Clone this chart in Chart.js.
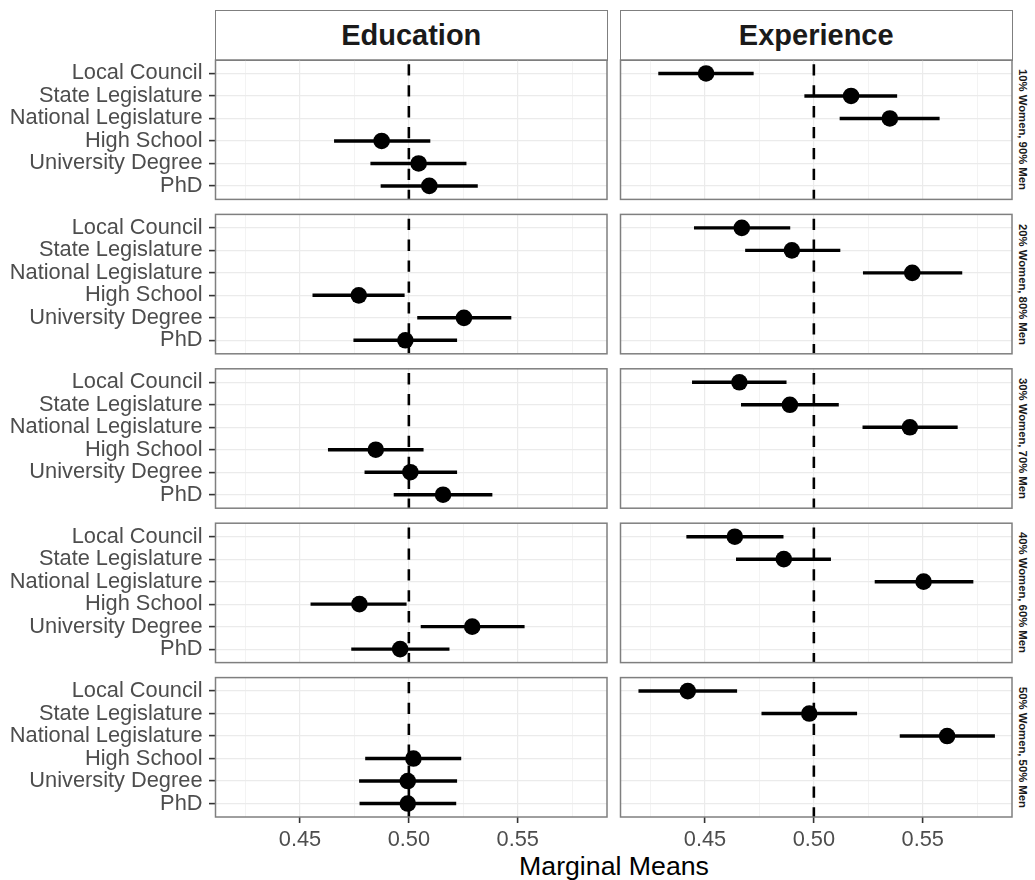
<!DOCTYPE html>
<html>
<head>
<meta charset="utf-8">
<script src="https://cdn.jsdelivr.net/npm/chart.js@4.4.1/dist/chart.umd.min.js"></script>
<style>
  body { margin: 0; width: 1035px; height: 880px; overflow: hidden; position: relative; background: #fff;
         font-family: 'Liberation Sans', Arial, Helvetica, sans-serif; }
  .panel { position: absolute; }
  .strip { position: absolute; box-sizing: border-box; border: 1.5px solid #7f7f7f; background: #fff;
           display: flex; align-items: center; justify-content: center;
           font-weight: bold; font-size: 29px; color: #1a1a1a; }
  .rstrip { position: absolute; display: flex; align-items: center; justify-content: center;
            writing-mode: vertical-rl; font-weight: bold; font-size: 11.3px; color: #1a1a1a; white-space: nowrap; }
  .xtitle { position: absolute; left: 214px; width: 800px; top: 853px; text-align: center;
            font-size: 26.7px; line-height: 1; color: #000; }
</style>
</head>
<body>
<div class="xtitle">Marginal Means</div>
<script>
// y categories, top to bottom
const levels = ['Local Council', 'State Legislature', 'National Legislature', 'High School', 'University Degree', 'PhD'];
const facets = ['Education', 'Experience'];
const groups = ['10% Women, 90% Men', '20% Women, 80% Men', '30% Women, 70% Men', '40% Women, 60% Men', '50% Women, 50% Men'];

const eduLevels = ['High School', 'University Degree', 'PhD'];
const expLevels = ['Local Council', 'State Legislature', 'National Legislature'];

// one row per group
const eduMean  = [[0.4875, 0.5045, 0.5094], [0.4770, 0.5253, 0.4984], [0.4848, 0.5007, 0.5157], [0.4773, 0.5291, 0.4960], [0.5021, 0.4995, 0.4995]];
const eduLower = [[0.4658, 0.4825, 0.4872], [0.4559, 0.5040, 0.4747], [0.4630, 0.4798, 0.4932], [0.4550, 0.5056, 0.4737], [0.4801, 0.4773, 0.4775]];
const eduUpper = [[0.5097, 0.5263, 0.5315], [0.4979, 0.5469, 0.5220], [0.5066, 0.5220, 0.5382], [0.4988, 0.5530, 0.5185], [0.5239, 0.5220, 0.5216]];

const expMean  = [[0.4505, 0.5171, 0.5349], [0.4669, 0.4899, 0.5452], [0.4658, 0.4890, 0.5441], [0.4637, 0.4862, 0.5504], [0.4421, 0.4979, 0.5612]];
const expLower = [[0.4287, 0.4958, 0.5120], [0.4451, 0.4686, 0.5227], [0.4442, 0.4667, 0.5225], [0.4416, 0.4644, 0.5281], [0.4196, 0.4761, 0.5396]];
const expUpper = [[0.4722, 0.5381, 0.5576], [0.4890, 0.5120, 0.5680], [0.4873, 0.5113, 0.5659], [0.4859, 0.5077, 0.5731], [0.4646, 0.5197, 0.5830]];

const refLine = 0.5;
const xMajor = [0.45, 0.50, 0.55];
const xMinor = [0.425, 0.475, 0.525, 0.575];
const xTickLabels = ['0.45', '0.50', '0.55'];
const xMin = 0.4112, xMax = 0.5910;
const yMin = -0.6, yMax = levels.length - 0.4;

// panel geometry (px)
const PANEL_LEFT = [215.5, 620.5];
const PANEL_W = 391.5;
const PANEL_TOP = 60;
const PITCH = 154.4;
const PANEL_H = 139.4;

const GRID = '#EBEBEB', BORDER = '#7F7F7F', TICK = '#333333', TEXT = '#4D4D4D';
Chart.defaults.font.family = "'Liberation Sans', Arial, Helvetica, sans-serif";

const isMajor = v => xMajor.some(m => Math.abs(m - v) < 1e-9);

const frame = {
  id: 'frame',
  afterDraw(chart) {
    const { ctx, chartArea: a } = chart;
    ctx.save();
    ctx.strokeStyle = BORDER;
    ctx.lineWidth = 1.5;
    ctx.strokeRect(a.left, a.top, a.right - a.left, a.bottom - a.top);
    ctx.restore();
  }
};

function addDiv(cls, css, text) {
  const d = document.createElement('div');
  d.className = cls;
  d.style.cssText = css;
  if (text) d.textContent = text;
  document.body.appendChild(d);
  return d;
}

function panel(row, col) {
  const left = col === 0;
  const bottom = row === groups.length - 1;
  const top = PANEL_TOP + row * PITCH;
  const areaL = PANEL_LEFT[col], areaR = areaL + PANEL_W, areaB = top + PANEL_H;
  const boxL = left ? 0 : 610;
  const boxR = left ? 612 : 1035;
  const boxT = Math.floor(top) - 5;
  const boxB = bottom ? 880 : Math.ceil(areaB) + 5;

  const div = addDiv('panel', `left:${boxL}px;top:${boxT}px;width:${boxR - boxL}px;height:${boxB - boxT}px`);
  const cv = document.createElement('canvas');
  cv.width = boxR - boxL;
  cv.height = boxB - boxT;
  div.appendChild(cv);

  const cats = left ? eduLevels : expLevels;
  const mean = (left ? eduMean : expMean)[row];
  const lo = (left ? eduLower : expLower)[row];
  const hi = (left ? eduUpper : expUpper)[row];
  const idx = cats.map(c => levels.indexOf(c));

  new Chart(cv, {
    type: 'bar',
    data: {
      datasets: [
        {
          type: 'scatter',
          data: idx.map((y, i) => ({ x: mean[i], y })),
          pointRadius: 8.3,
          pointBackgroundColor: '#000',
          pointBorderWidth: 0,
          order: 0
        },
        {
          type: 'bar',
          data: idx.map((y, i) => ({ x: [lo[i], hi[i]], y })),
          backgroundColor: '#000',
          barThickness: 2.8,
          borderWidth: 0,
          order: 1
        },
        {
          type: 'line',
          data: [{ x: refLine, y: yMin }, { x: refLine, y: yMax }],
          borderColor: '#000',
          borderWidth: 2.6,
          borderDash: [11.3, 9.6],
          borderDashOffset: 16.6,
          pointRadius: 0,
          fill: false,
          order: 2
        }
      ]
    },
    options: {
      indexAxis: 'y',
      responsive: false,
      animation: false,
      events: [],
      layout: {
        autoPadding: false,
        padding: { left: 0, top: top - boxT, right: boxR - areaR, bottom: bottom ? 0 : boxB - areaB }
      },
      plugins: { legend: { display: false }, tooltip: { enabled: false } },
      scales: {
        x: {
          type: 'linear',
          min: xMin,
          max: xMax,
          bounds: 'data',
          beginAtZero: false,
          offset: false,
          afterBuildTicks: s => { s.ticks = xMinor.concat(xMajor).sort((a, b) => a - b).map(v => ({ value: v })); },
          afterFit: s => {
            s.height = bottom ? boxB - areaB : 0;
            s.paddingLeft = 0; s.paddingRight = 0;
          },
          border: { display: false },
          grid: {
            offset: false,
            color: GRID,
            lineWidth: c => (c.tick && isMajor(c.tick.value)) ? 1.2 : 0.6,
            drawTicks: bottom,
            tickLength: 6,
            tickWidth: 1.6,
            tickColor: c => (c.tick && isMajor(c.tick.value)) ? TICK : 'rgba(0,0,0,0)'
          },
          ticks: {
            display: bottom,
            autoSkip: false,
            maxRotation: 0,
            padding: 4,
            color: TEXT,
            font: { size: 21.8 },
            callback: v => {
              const k = xMajor.findIndex(m => Math.abs(m - v) < 1e-9);
              return k < 0 ? '' : xTickLabels[k];
            }
          }
        },
        y: {
          type: 'linear',
          min: yMin,
          max: yMax,
          reverse: true,
          bounds: 'data',
          beginAtZero: false,
          offset: false,
          afterBuildTicks: s => { s.ticks = levels.map((_, i) => ({ value: i })); },
          afterFit: s => {
            s.width = areaL - boxL;
            s.paddingTop = 0; s.paddingBottom = 0;
          },
          border: { display: false },
          grid: {
            offset: false,
            color: GRID,
            lineWidth: 1.2,
            drawTicks: left,
            tickLength: 6.5,
            tickWidth: 1.6,
            tickColor: TICK
          },
          ticks: {
            display: left,
            autoSkip: false,
            padding: 6.5,
            color: TEXT,
            font: { size: 21.8 },
            callback: v => levels[v]
          }
        }
      }
    },
    plugins: [frame]
  });
}

// column strips
facets.forEach((f, col) => {
  const l = PANEL_LEFT[col] - 0.75;
  addDiv('strip', `left:${l}px;top:10.25px;width:${PANEL_W + 1.5}px;height:50.5px`, f);
});

// row strips
groups.forEach((g, row) => {
  const t = PANEL_TOP + row * PITCH;
  addDiv('rstrip', `left:1013px;top:${t}px;width:20px;height:${PANEL_H}px`, g);
});

for (let r = 0; r < groups.length; r++) {
  for (let c = 0; c < facets.length; c++) panel(r, c);
}
</script>
</body>
</html>
